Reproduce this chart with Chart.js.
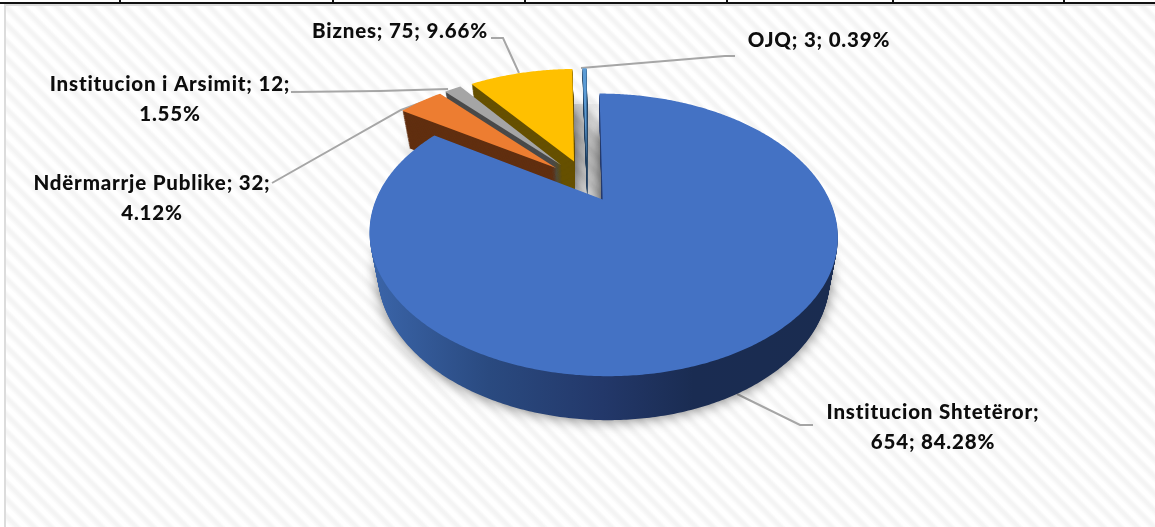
<!DOCTYPE html>
<html>
<head>
<meta charset="utf-8">
<title>Pie</title>
<script src="https://cdn.jsdelivr.net/npm/chart.js@4"></script>
<style>
    html, body { margin: 0; padding: 0; background: #fff; overflow: hidden; }
    #wrap { position: relative; width: 1155px; height: 527px; }
    #panel {
        position: absolute; left: 4px; top: 4px; right: 0; bottom: 0;
        border-left: 2px solid #dcdcdc; border-top: 2px solid #dcdcdc;
        background: repeating-linear-gradient(45deg, #fff 0, #fff 3px, #f4f4f4 7px, #f4f4f4 9px, #fff 12px);
    }
    #chart { position: absolute; left: 0; top: 0; }
</style>
</head>
<body>
<div id="wrap">
    <div id="panel"></div>
    <canvas id="chart" width="1155" height="527"></canvas>
</div>
<script>
// data
const categories = ['Institucion Shtetëror', 'Ndërmarrje Publike', 'Institucion i Arsimit', 'Biznes', 'OJQ'];
const values = [654, 32, 12, 75, 3];

// colours
const topColors = ['#4472C4', '#ED7D31', '#A5A5A5', '#FFC000', '#5B9BD5'];
const sideColors = [null, '#612F10', '#4A4A4A', '#665000', '#244060'];
const explode = [35, 46, 46, 46, 46];

// where each label sits and where its line breaks
const labelPos = [[933, 419], [152, 190], [170, 91], [400, 38], [819, 47]];
const labelWrap = ['name', 'pct', 'pct', 'none', 'none'];
const leaders = [
    [[737, 394], [800, 425], [813, 425]],
    [[272, 183], [401, 110], [420, 103]],
    [[291, 92], [380, 91], [448, 89]],
    [[491, 38], [503, 38], [519, 73]],
    [[581, 68], [725, 56], [735, 56]]
];
const tableTicks = [119, 332, 524, 726, 892, 1063];

// fake perspective camera for the tilted pie
const cam = { x: 587, y: 183, a: 219.6, b: 124.3, k: 0.243 };
const depth = { cx: 607, shrink: 0.035, rear: 37, front: 44, top: 94, bottom: 377 };

function project(u, v, t) {
    const w = 1 - cam.k * v;
    let x = cam.x + cam.a * u / w;
    let y = cam.y + cam.b * v / w;
    // t goes 0 (top face) to 1 (bottom face)
    const drop = depth.rear + (depth.front - depth.rear) * (y - depth.top) / (depth.bottom - depth.top);
    x = depth.cx + (x - depth.cx) * (1 - depth.shrink * t);
    y = y + drop * t;
    return [x, y];
}

function slicePath(ctx, arc, offset, t) {
    const p = arc.getProps(['startAngle', 'endAngle', 'outerRadius'], true);
    const mid = (p.startAngle + p.endAngle) / 2;
    const ou = Math.cos(mid) * offset / p.outerRadius;
    const ov = Math.sin(mid) * offset / p.outerRadius;
    const steps = Math.max(2, Math.ceil((p.endAngle - p.startAngle) / 0.01));
    ctx.beginPath();
    const apex = project(ou, ov, t);
    ctx.moveTo(apex[0], apex[1]);
    for (let i = 0; i <= steps; i++) {
        const ang = p.startAngle + (p.endAngle - p.startAngle) * i / steps;
        const pt = project(ou + Math.cos(ang), ov + Math.sin(ang), t);
        ctx.lineTo(pt[0], pt[1]);
    }
    ctx.closePath();
}

const pie3d = {
    id: 'pie3d',
    beforeDatasetDraw(chart, args) {
        const ctx = chart.ctx;
        const arcs = args.meta.data;
        const blueSide = ctx.createLinearGradient(375, 0, 830, 0);
        blueSide.addColorStop(0, '#3A64A8');
        blueSide.addColorStop(0.25, '#2A4A80');
        blueSide.addColorStop(0.5, '#23386A');
        blueSide.addColorStop(0.7, '#1A2C52');
        blueSide.addColorStop(1, '#1A2C50');

        // the gap between the slices is darker than the outer shadow
        ctx.save();
        ctx.beginPath();
        ctx.rect(570, 104, 32, 100);
        ctx.clip();
        ctx.shadowColor = 'rgba(0,0,0,0.6)';
        ctx.shadowBlur = 34;
        ctx.fillStyle = '#888';
        [3, 0].forEach(i => {
            slicePath(ctx, arcs[i], arcs[i].options.offset, 1);
            ctx.fill();
        });
        ctx.restore();

        // back slices first, the big one goes last
        [4, 3, 2, 1, 0].forEach(i => {
            const arc = arcs[i];
            const offset = arc.options.offset;
            ctx.save();
            ctx.shadowColor = 'rgba(0,0,0,0.55)';
            ctx.shadowBlur = 14;
            ctx.fillStyle = sideColors[i] || blueSide;
            slicePath(ctx, arc, offset, 1);
            ctx.fill();
            ctx.restore();
            ctx.fillStyle = sideColors[i] || blueSide;
            for (let n = 43; n > 0; n--) {
                slicePath(ctx, arc, offset, n / 44);
                ctx.fill();
            }
            ctx.fillStyle = arc.options.backgroundColor;
            slicePath(ctx, arc, offset, 0);
            ctx.fill();
        });
        return false; // arcs already painted in perspective
    },
    beforeDatasetsDraw(chart) {
        const ctx = chart.ctx;
        // leader lines sit under the pie
        ctx.strokeStyle = '#A6A6A6';
        ctx.lineWidth = 2;
        leaders.forEach(pts => {
            ctx.beginPath();
            pts.forEach((p, i) => i ? ctx.lineTo(p[0], p[1]) : ctx.moveTo(p[0], p[1]));
            ctx.stroke();
        });
    },
    afterDraw(chart) {
        const ctx = chart.ctx;
        // table border that got caught in the screenshot
        ctx.fillStyle = '#111';
        ctx.fillRect(0, 2, 1155, 2);
        tableTicks.forEach(x => ctx.fillRect(x, 0, 2, 3));

        const total = values.reduce((a, b) => a + b, 0);
        ctx.fillStyle = '#0D0D0D';
        ctx.font = '900 20.5px Lato';
        ctx.letterSpacing = '0.8px';
        ctx.textAlign = 'center';
        categories.forEach((name, i) => {
            const pct = (values[i] / total * 100).toFixed(2) + '%';
            let lines = [name + '; ' + values[i] + '; ' + pct];
            if (labelWrap[i] === 'pct') lines = [name + '; ' + values[i] + ';', pct];
            if (labelWrap[i] === 'name') lines = [name + ';', values[i] + '; ' + pct];
            lines.forEach((l, n) => ctx.fillText(l, labelPos[i][0], labelPos[i][1] + n * 30));
        });
    }
};

new Chart(document.getElementById('chart').getContext('2d'), {
    type: 'pie',
    data: {
        labels: categories,
        datasets: [{
            data: values,
            backgroundColor: topColors,
            borderWidth: 0,
            offset: explode
        }]
    },
    options: {
        responsive: false,
        animation: false,
        events: [],
        rotation: 0,
        plugins: { legend: { display: false }, tooltip: { enabled: false } }
    },
    plugins: [pie3d]
});
</script>
</body>
</html>
